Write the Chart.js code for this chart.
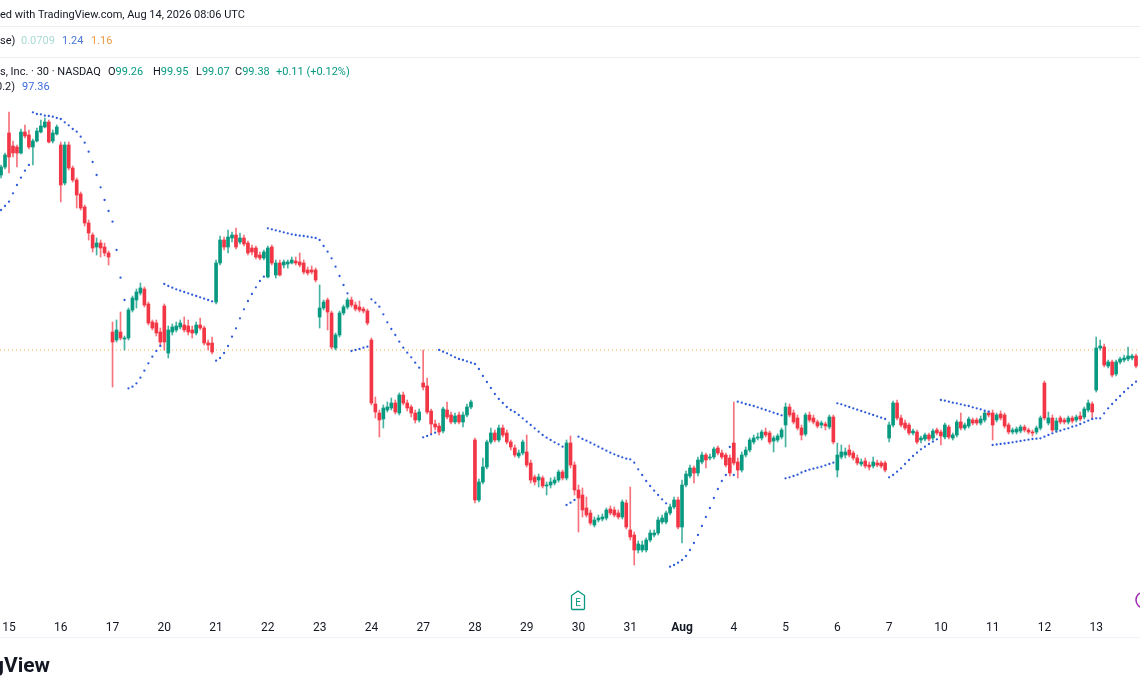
<!DOCTYPE html>
<html><head><meta charset="utf-8">
<script src="https://cdn.jsdelivr.net/npm/chart.js@4.4.1/dist/chart.umd.min.js"></script>
<style>
html,body{margin:0;padding:0;background:#fff;overflow:hidden}
#wrap{position:relative;width:1140px;height:694px;overflow:hidden;font-family:Roboto,"Liberation Sans",sans-serif}
canvas{position:absolute;left:0;top:0}
.t{position:absolute;white-space:nowrap;font-size:11px;color:#131722;line-height:14px}
.g{color:#089981}
.sep{position:absolute;left:0;width:1140px;height:1px;background:#eceef2}
</style></head><body>
<div id="wrap">
<canvas id="c" width="1140" height="694"></canvas>
<div class="t" style="left:0;top:8px">ed with TradingView.com, Aug 14, 2026 08:06 UTC</div>
<div class="sep" style="top:26px"></div>
<div class="t" style="left:0;top:34px">se)</div>
<div class="t" style="left:21px;top:34px;color:#a8dcd3">0.0709</div>
<div class="t" style="left:62px;top:34px;color:#4a78d8">1.24</div>
<div class="t" style="left:91px;top:34px;color:#ef9a45">1.16</div>
<div class="sep" style="top:57px"></div>
<div class="t" style="left:0;top:65px">s, Inc. · 30 · NASDAQ</div>
<div class="t" style="left:108px;top:65px">O<span class="g">99.26</span></div>
<div class="t" style="left:153px;top:65px">H<span class="g">99.95</span></div>
<div class="t" style="left:196px;top:65px">L<span class="g">99.07</span></div>
<div class="t" style="left:235px;top:65px">C<span class="g">99.38</span></div>
<div class="t g" style="left:276px;top:65px">+0.11 (+0.12%)</div>
<div class="t" style="left:-4px;top:80px">0.2)</div>
<div class="t" style="left:22px;top:80px;color:#3d6ae0">97.36</div>
<div style="position:absolute;left:0;top:637px;width:1140px;height:1px;background:#f0f3fa"></div>
<div style="position:absolute;right:1090px;top:652px;font-size:21px;font-weight:bold;color:#131722;white-space:nowrap;line-height:26px">TradingView</div>
<svg style="position:absolute;left:570px;top:590px" width="16" height="21" viewBox="0 0 16 21">
<path d="M8 1 L14.5 5.5 L14.5 18.5 Q14.5 19.5 13.5 19.5 L2.5 19.5 Q1.5 19.5 1.5 18.5 L1.5 5.5 Z" fill="#fff" stroke="#089981" stroke-width="1.3"/>
<text x="8" y="16" text-anchor="middle" font-family="Roboto,sans-serif" font-size="10" fill="#089981">E</text>
</svg>
<svg style="position:absolute;left:1126px;top:588px" width="26" height="24">
<circle cx="18" cy="12" r="8" fill="#fff" stroke="#9c27b0" stroke-width="1.5"/>
</svg>
</div>
<script>
// 30-minute candles, from the last two bars of Jul 14 to Aug 13
const open = [118.5,119.3,
122.7,121.4,121.3,120.7,122.8,122.5,121.3,121.9,122.8,123.3,123.8,121.9,122.6,
121.5,117.7,121.5,119.2,118.0,116.6,115.3,113.7,112.5,111.3,111.7,111.3,110.7,
102.8,102.0,102.8,102.1,102.2,105.0,106.0,106.7,107.1,105.6,103.8,103.7,102.8,
105.4,100.7,102.8,103.0,103.3,103.5,103.4,103.0,102.7,103.5,103.2,101.7,101.7,
105.8,109.7,112.0,111.3,112.2,112.5,111.8,112.2,111.7,111.2,111.2,110.5,110.2,
108.3,111.3,108.5,109.7,109.5,109.6,109.7,109.9,109.8,109.7,109.0,109.0,109.0,
104.3,105.2,106.0,104.7,101.2,102.5,104.7,105.3,106.0,105.5,105.3,105.1,104.9,
102.0,95.6,94.7,94.1,95.0,95.2,95.7,94.7,96.5,95.7,95.3,94.7,94.0,
97.7,97.4,94.9,93.6,93.4,92.9,95.0,94.5,93.8,94.5,93.8,94.5,95.3,
92.0,86.0,87.8,89.3,91.8,92.7,92.0,93.2,92.7,91.8,91.2,90.4,90.7,
90.8,89.7,88.3,88.0,88.2,87.4,87.5,87.7,88.0,88.8,88.2,91.7,89.5,
87.0,86.5,85.2,84.7,83.5,84.0,84.1,84.2,85.1,85.0,84.7,84.3,85.7,
83.0,82.5,81.0,81.0,81.0,82.0,82.5,82.7,83.8,83.8,84.7,85.3,86.0,
83.3,87.5,88.4,89.2,88.7,89.8,90.5,90.2,90.3,91.2,90.7,90.5,90.2,
91.7,89.8,89.0,90.5,91.0,91.8,92.2,92.2,92.8,92.7,91.9,92.0,92.3,
93.5,95.3,94.7,94.2,93.2,92.6,94.5,94.2,93.8,93.5,93.6,93.3,94.3,
89.0,90.3,90.5,91.0,90.7,90.2,89.6,89.9,89.5,89.4,89.7,89.7,89.7,
92.2,93.5,95.7,94.2,93.7,93.5,92.7,92.8,92.0,92.1,92.5,92.2,93.0,
92.8,92.3,93.3,92.2,92.5,93.8,93.2,93.4,94.0,94.0,93.7,94.0,94.7,
94.7,94.0,94.6,94.5,93.5,92.8,92.8,92.9,93.3,93.0,92.8,92.8,93.2,
97.7,93.7,94.2,93.0,94.2,94.0,93.8,94.2,94.0,94.4,94.3,95.0,95.6,
97.0,101.2,101.3,99.4,99.8,98.6,99.8,100.0,100.1,100.2,100.4];
const high = [119.5,120.7,
124.8,121.9,121.5,123.1,123.5,123.0,122.1,123.2,124.0,124.2,124.0,123.0,123.5,
121.8,121.8,121.8,119.4,118.2,116.8,115.5,114.0,112.7,112.2,112.0,111.7,110.9,
103.8,104.0,104.8,102.4,105.2,106.4,107.1,107.7,107.3,105.8,104.0,104.0,103.2,
105.6,103.4,103.6,103.8,104.0,104.3,104.0,103.4,103.8,104.2,103.4,102.0,102.3,
110.0,112.4,112.3,113.0,112.8,113.2,112.7,112.5,111.9,111.5,111.4,110.8,111.0,
111.4,111.5,110.0,110.0,110.0,110.0,110.3,110.3,110.7,110.0,109.3,109.4,109.2,
107.5,106.0,106.2,104.9,102.7,104.9,105.5,106.2,106.3,105.8,105.9,105.3,105.1,
102.2,96.3,95.0,95.5,95.8,96.2,96.0,96.7,96.8,96.0,95.5,95.0,95.1,
101.0,98.2,95.1,94.0,93.7,95.3,95.8,94.8,94.7,94.8,94.8,95.6,96.0,
92.2,88.1,90.2,92.0,93.2,93.0,93.5,93.5,93.0,92.0,91.5,91.0,92.0,
92.5,90.0,88.5,88.6,88.4,87.8,88.2,88.3,89.0,89.0,92.0,92.4,89.8,
87.5,87.2,86.3,85.0,84.3,84.5,84.6,85.2,85.4,85.3,85.0,86.0,86.0,
87.3,82.8,81.9,81.9,82.2,83.0,83.0,84.3,84.5,84.9,85.6,86.3,86.3,
88.0,88.9,89.5,89.4,90.3,90.8,90.7,90.6,91.3,91.4,91.0,90.7,90.5,
95.8,90.2,90.8,91.3,92.2,92.5,92.7,93.0,93.2,92.9,92.4,92.6,93.2,
95.7,95.6,95.0,94.5,93.5,94.7,94.8,94.5,94.0,93.9,93.8,94.5,94.5,
91.7,91.5,91.2,91.5,90.9,90.5,90.1,90.2,89.8,90.3,90.0,89.9,89.9,
93.8,95.9,96.0,94.5,94.0,93.7,93.1,93.0,92.4,92.7,92.7,93.1,93.2,
93.0,93.7,93.5,92.7,94.0,94.7,93.7,94.3,94.2,94.2,94.4,94.9,94.9,
95.0,94.7,94.9,94.7,93.7,93.2,93.3,93.5,93.5,93.2,93.0,93.4,94.4,
97.9,94.8,94.5,94.2,94.4,94.2,94.4,94.4,94.5,94.8,95.3,96.0,95.8,
102.3,102.0,101.6,100.0,100.0,100.0,100.3,100.5,101.3,100.6,100.6];
const low = [118.2,119.1,
118.7,120.3,119.3,120.6,122.2,121.1,119.5,121.8,122.7,123.2,121.7,121.7,122.5,
115.8,117.5,119.0,117.8,115.2,115.0,113.4,112.0,110.8,110.5,110.3,110.4,109.5,
97.3,101.8,102.0,101.0,102.0,104.8,105.2,106.5,105.3,103.5,103.0,102.4,101.4,
101.0,100.2,102.5,102.8,103.1,102.8,102.5,102.2,102.5,103.0,101.5,101.0,100.6,
105.6,109.5,111.0,110.7,111.8,111.1,111.6,111.4,110.5,110.5,110.1,110.0,110.0,
108.2,109.5,108.2,108.4,109.2,109.2,109.6,109.5,109.3,108.6,108.5,108.6,107.8,
103.2,105.0,103.0,101.1,101.0,102.3,104.5,105.1,105.3,104.9,104.8,104.7,103.5,
95.5,94.2,92.3,93.2,94.8,95.0,94.6,94.5,95.5,94.9,94.3,93.7,93.8,
97.0,94.6,92.6,93.0,92.5,92.7,94.1,93.6,93.6,93.6,93.3,94.3,95.1,
85.7,85.8,87.6,89.1,91.6,91.8,91.8,92.3,91.6,91.0,90.3,90.2,90.5,
89.3,87.7,87.5,87.3,87.2,86.5,87.2,87.5,87.8,88.0,88.0,89.2,86.5,
82.8,84.3,84.3,83.5,83.3,83.8,83.9,84.0,84.5,84.3,84.1,84.1,83.1,
82.0,79.5,80.7,80.8,80.8,81.8,82.3,82.5,83.6,83.6,84.5,85.1,83.1,
81.7,87.3,88.2,87.7,88.4,89.6,89.2,90.0,90.1,90.5,90.1,89.3,88.4,
89.5,88.2,88.8,90.3,90.8,91.6,92.0,92.0,92.3,91.6,90.8,91.8,92.1,
91.3,94.3,93.6,93.0,92.0,92.4,93.8,93.6,93.2,93.2,93.0,93.1,91.6,
88.3,90.1,90.2,90.3,90.0,89.5,89.4,89.2,89.0,89.2,89.3,89.2,88.8,
91.8,93.3,94.0,93.3,93.0,92.5,92.5,91.6,91.7,91.9,91.9,92.0,92.5,
91.5,92.1,92.1,92.0,92.3,93.0,93.0,93.2,93.5,93.5,93.5,93.8,94.3,
92.0,93.8,94.0,93.2,92.6,92.6,92.6,92.7,92.8,92.6,92.4,92.6,93.0,
94.0,93.5,92.8,92.8,93.6,93.6,93.6,93.7,93.8,93.9,94.1,94.8,94.1,
96.8,101.0,99.3,99.2,98.3,98.4,99.6,99.8,99.9,100.0,99.2];
const close = [119.3,120.5,
120.3,120.7,120.7,122.8,122.4,121.3,121.9,122.9,123.4,123.8,121.8,122.7,123.3,
117.5,121.5,119.2,118.0,116.5,115.2,113.7,112.7,111.2,111.7,111.2,110.7,110.3,
101.8,103.0,102.2,102.2,105.0,106.2,106.8,107.2,105.5,103.7,103.2,102.7,101.8,
101.8,103.0,103.3,103.4,103.7,103.0,102.8,102.7,103.5,103.2,101.7,101.5,100.8,
109.7,112.0,111.3,112.3,112.5,111.3,112.2,111.6,110.7,110.8,110.3,110.2,110.8,
111.2,109.7,109.7,108.5,109.8,109.8,110.0,109.7,109.5,108.8,108.7,108.8,108.0,
105.2,105.8,104.8,101.3,102.5,104.7,105.3,106.0,105.5,105.1,105.0,104.9,103.7,
95.7,94.8,94.0,95.2,95.3,95.7,94.8,96.5,95.7,95.2,94.7,94.0,94.8,
97.3,94.8,93.6,93.3,92.8,95.1,94.3,93.8,94.4,93.8,94.5,95.3,95.8,
86.0,87.8,89.3,91.8,92.7,92.0,93.2,92.5,91.8,91.3,90.5,90.7,91.8,
89.5,88.0,87.8,88.3,87.4,87.5,87.8,88.0,88.8,88.2,91.7,89.5,87.0,
86.2,85.0,84.5,83.7,84.0,84.2,84.3,85.0,84.7,84.5,84.3,85.8,83.3,
82.3,81.0,81.6,81.5,82.0,82.7,82.7,84.0,84.2,84.7,85.3,86.0,83.3,
87.5,88.6,89.2,88.7,90.0,90.5,90.0,90.3,91.1,90.7,90.3,89.5,88.7,
89.7,89.0,90.5,91.0,92.0,92.2,92.3,92.8,92.5,91.8,92.2,92.4,93.0,
95.3,94.5,93.8,93.2,92.5,94.5,94.0,93.8,93.4,93.7,93.4,94.3,91.8,
90.5,90.8,90.8,90.5,90.2,89.7,89.8,89.4,89.3,89.8,89.5,89.4,89.0,
93.5,95.7,94.2,93.5,93.2,92.7,92.9,91.8,92.2,92.5,92.1,92.9,92.7,
92.4,93.5,92.3,92.5,93.8,93.2,93.5,94.1,93.7,93.7,94.1,94.7,94.5,
93.5,94.5,94.2,93.4,92.8,93.0,93.1,93.3,93.0,92.8,92.7,93.2,94.2,
94.2,94.2,93.0,93.9,93.8,93.8,94.2,93.9,94.3,94.1,95.1,95.7,94.8,
101.2,101.4,99.5,99.8,98.5,99.8,100.1,100.2,100.4,100.4,99.4];
// Parabolic SAR (0.02, 0.02, 0.2)
const sar = [115.0,115.4,
115.83,116.67,117.5,118.23,118.93,119.5,124.77,124.6,124.57,124.43,124.4,124.33,124.2,
124.1,123.77,123.47,123.1,122.83,122.33,121.73,120.83,119.8,118.5,117.27,116.0,114.9,
113.83,111.0,108.23,106.0,97.17,97.33,97.67,98.23,98.93,99.67,100.33,100.9,101.4,
107.6,107.4,107.23,107.07,106.93,106.8,106.67,106.53,106.4,106.27,106.13,106.0,105.87,
99.93,100.2,100.7,101.4,102.33,103.17,104.17,105.07,105.9,106.6,107.27,107.9,108.33,
113.17,113.07,112.97,112.87,112.77,112.67,112.57,112.5,112.43,112.4,112.33,112.27,112.2,
112.0,111.4,110.83,110.17,109.33,108.4,107.5,106.67,100.9,101.0,101.1,101.23,101.33,
106.07,105.73,105.33,104.57,103.77,103.1,102.5,101.83,101.23,100.73,100.27,99.73,99.23,
92.27,92.4,92.57,92.73,101.0,100.83,100.67,100.47,100.27,100.1,100.0,99.87,99.73,
99.6,99.1,98.4,97.8,97.2,96.6,96.1,95.7,95.3,95.0,94.8,94.5,94.17,
93.83,93.5,93.17,92.83,92.5,92.23,92.0,91.77,91.57,91.33,85.5,85.73,86.0,
92.33,92.1,91.93,91.73,91.53,91.33,91.13,90.93,90.73,90.57,90.4,90.27,90.13,
90.07,89.73,89.07,88.5,87.9,87.4,86.93,86.5,86.07,85.67,79.33,79.5,79.73,
80.0,80.4,81.0,81.7,82.5,83.4,84.3,85.2,86.2,87.1,87.9,88.5,91.3,
88.5,95.83,95.73,95.6,95.5,95.4,95.27,95.13,95.0,94.87,94.73,94.6,94.47,
88.17,88.27,88.4,88.53,88.75,88.9,89.03,89.13,89.23,89.33,89.47,89.6,89.73,
95.67,95.57,95.43,95.3,95.17,95.03,94.9,94.77,94.63,94.5,94.37,94.23,94.1,
88.27,88.5,88.83,89.17,89.6,90.0,90.4,90.73,91.07,91.33,91.6,91.83,92.07,
96.0,95.93,95.83,95.73,95.67,95.57,95.47,95.4,95.27,95.17,95.07,94.93,94.83,
91.5,91.55,91.6,91.65,91.7,91.77,91.83,91.9,91.97,92.03,92.1,92.13,92.17,
92.33,92.5,92.67,92.83,92.93,93.07,93.17,93.33,93.43,93.6,93.77,93.93,94.1,
94.17,94.17,94.67,95.17,95.6,96.0,96.4,96.8,97.17,97.5,97.83];
// first bar of each session and its time-axis label
const dayStart = [2,15,28,41,54,67,80,93,106,119,132,145,158,171,184,197,210,223,236,249,262,275];
const dayLabels = ['15','16','17','20','21','22','23','24','27','28','29','30','31','Aug','4','5','6','7','10','11','12','13'];
const refPrice = 101.0;

const UP = '#089981', DOWN = '#f23645';
const UP_WICK = 'rgba(8,153,129,0.75)', DOWN_WICK = 'rgba(242,54,69,0.7)';
const isUp = open.map((o, i) => close[i] >= o);
const colors = isUp.map(u => u ? UP : DOWN);
const wickColors = isUp.map(u => u ? UP_WICK : DOWN_WICK);
const xMin = -0.26, xMax = 286;

new Chart(document.getElementById('c'), {
  type: 'bar',
  data: {
    datasets: [
      { type: 'line', label: 'SAR', data: sar.map((v, i) => ({ x: i, y: v })), showLine: false,
        pointRadius: 1.15, pointBorderWidth: 0, pointBackgroundColor: '#2d5bd8', order: 0 },
      { label: 'body', data: open.map((o, i) => ({ x: i, y: [o, close[i]] })), backgroundColor: colors,
        barThickness: 3, minBarLength: 1, grouped: false, order: 1 },
      { label: 'wick', data: low.map((l, i) => ({ x: i, y: [l, high[i]] })), backgroundColor: wickColors,
        barThickness: 1, grouped: false, order: 2 },
      { type: 'line', label: 'ref', data: [{ x: xMin, y: refPrice }, { x: xMax, y: refPrice }],
        borderColor: '#f0ad3c', borderWidth: 1, borderDash: [1, 3], pointRadius: 0, order: 3 }
    ]
  },
  options: {
    responsive: false, animation: false, events: [],
    layout: { autoPadding: false, padding: { top: 100, left: 0, right: 0, bottom: 0 } },
    plugins: { legend: { display: false }, tooltip: { enabled: false } },
    scales: {
      x: {
        type: 'linear', min: xMin, max: xMax, offset: false,
        grid: { display: false }, border: { display: false },
        afterBuildTicks: a => { a.ticks = dayStart.map(v => ({ value: v })); },
        afterFit: s => { s.height = 94; s.paddingLeft = 0; s.paddingRight = 0; },
        ticks: {
          autoSkip: false, maxRotation: 0, padding: 13, color: '#131722',
          font: c => ({ family: 'Roboto', size: 12, weight: dayLabels[c.index] === 'Aug' ? 'bold' : 'normal' }),
          callback: v => { const k = dayStart.indexOf(v); return k >= 0 ? dayLabels[k] : ''; }
        }
      },
      y: { display: false, min: 76, max: 126 }
    }
  }
});
</script>
</body></html>
